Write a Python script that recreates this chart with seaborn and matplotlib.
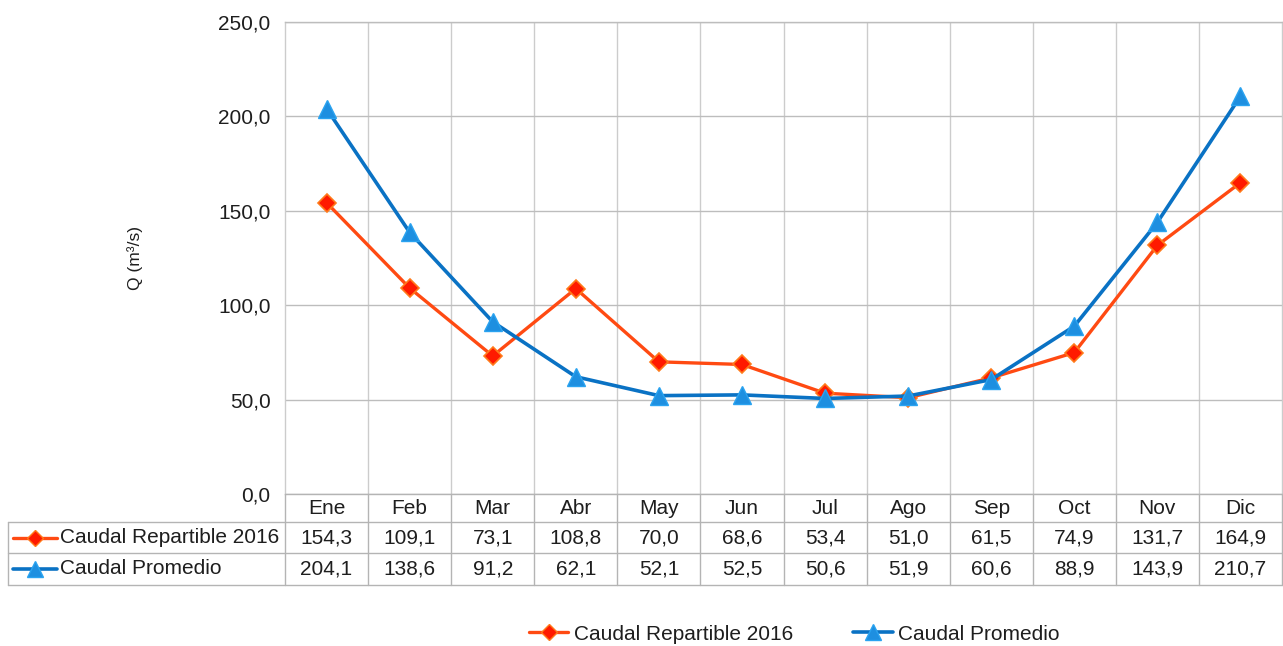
import matplotlib
matplotlib.use("Agg")
import matplotlib.pyplot as plt
import matplotlib.transforms as mtransforms
from matplotlib.lines import Line2D
import seaborn as sns
import pandas as pd

months = ["Ene", "Feb", "Mar", "Abr", "May", "Jun", "Jul", "Ago", "Sep", "Oct", "Nov", "Dic"]
caudal_repartible = [154.3, 109.1, 73.1, 108.8, 70.0, 68.6, 53.4, 51.0, 61.5, 74.9, 131.7, 164.9]
caudal_promedio = [204.1, 138.6, 91.2, 62.1, 52.1, 52.5, 50.6, 51.9, 60.6, 88.9, 143.9, 210.7]
series_names = ["Caudal Repartible 2016", "Caudal Promedio"]
y_ticks = [0, 50, 100, 150, 200, 250]

sns.set_theme(style="white")
plt.rcParams['font.family'] = ['Liberation Sans', 'DejaVu Sans']

W, H = 1283, 646
fig = plt.figure(figsize=(W / 100, H / 100), dpi=100)
L, R, T, B = 285, 1282, 22, 494
ax = fig.add_axes([L / W, 1 - B / H, (R - L) / W, (B - T) / H])

grid_c = "#cccccc"
hgrid_c = "#bdbdbd"
border_c = "#b4b4b4"
orange = "#FF4A12"
blue = "#0A72C4"
txt_c = "#1e1e1e"

df = pd.DataFrame({"pos": list(range(len(months))),
                   "rep": caudal_repartible, "prom": caudal_promedio})

sns.lineplot(data=df, x="pos", y="rep", ax=ax, color=orange, linewidth=2.4,
             marker="D", markersize=9.5, markerfacecolor="#FF1A00",
             markeredgecolor="#FF7A1A", markeredgewidth=1.2, zorder=4)
sns.lineplot(data=df, x="pos", y="prom", ax=ax, color=blue, linewidth=2.6,
             marker="^", markersize=13.5, markerfacecolor="#1E8FE0",
             markeredgecolor="#2AA3F0", markeredgewidth=1.0, zorder=5)

fs = 15
ax.set_xlim(-0.5, len(months) - 0.5)
ax.set_ylim(0, 250)
ax.set_yticks(y_ticks)
ax.set_yticklabels([f"{v:.1f}".replace(".", ",") for v in y_ticks], fontsize=fs, color=txt_c)
ax.tick_params(axis="y", length=0, pad=10.5)
ax.set_xticks([i + 0.5 for i in range(len(months) - 1)])
ax.set_xticklabels([])
ax.tick_params(axis="x", length=0)
ax.set_xlabel("")
ax.xaxis.grid(True, color=grid_c, linewidth=1.0)
ax.yaxis.grid(True, color=hgrid_c, linewidth=1.0)
ax.set_axisbelow(True)
for s in ax.spines.values():
    s.set_color(grid_c)
    s.set_linewidth(1.0)
ax.spines["bottom"].set_color(border_c)
ax.spines["top"].set_color(hgrid_c)

ax.set_ylabel("Q (m³/s)", fontsize=12.5, color=txt_c)
ax.yaxis.set_label_coords(-(L - 143) / (R - L), 0.5)

# Data table below the plot
trans = mtransforms.blended_transform_factory(ax.transData, fig.transFigure)
def fy(py):
    return 1 - py / H
def fx(px):
    return px / W

row_y = [494, 522, 553, 585]
n = len(months)
lkw = dict(color=border_c, linewidth=1.0, clip_on=False)
for i in range(n + 1):
    fig.add_artist(Line2D([i - 0.5, i - 0.5], [fy(row_y[0]), fy(row_y[3])], transform=trans, **lkw))
for py in row_y[1:]:
    fig.add_artist(Line2D([fx(8), fx(R)], [fy(py), fy(py)], transform=fig.transFigure, **lkw))
fig.add_artist(Line2D([fx(8), fx(8)], [fy(row_y[1]), fy(row_y[3])], transform=fig.transFigure, **lkw))

for i, m in enumerate(months):
    fig.text(i, fy((row_y[0] + row_y[1]) / 2), m, transform=trans, ha="center", va="center",
             fontsize=fs, color=txt_c)
    fig.text(i, fy((row_y[1] + row_y[2]) / 2), f"{caudal_repartible[i]:.1f}".replace(".", ","),
             transform=trans, ha="center", va="center", fontsize=fs, color=txt_c)
    fig.text(i, fy((row_y[2] + row_y[3]) / 2), f"{caudal_promedio[i]:.1f}".replace(".", ","),
             transform=trans, ha="center", va="center", fontsize=fs, color=txt_c)

keys = [
    dict(color=orange, linewidth=2.4, marker="D", markersize=8, markerfacecolor="#FF1A00",
         markeredgecolor="#FF7A1A", markeredgewidth=1.0),
    dict(color=blue, linewidth=2.6, marker="^", markersize=11.5, markerfacecolor="#1E8FE0",
         markeredgecolor="#2AA3F0", markeredgewidth=1.0),
]
for k, (name, kw) in enumerate(zip(series_names, keys)):
    yc = fy((row_y[k + 1] + row_y[k + 2]) / 2)
    kw2 = dict(kw)
    kw2["markevery"] = [1]
    fig.add_artist(Line2D([fx(13), fx(35), fx(57)], [yc, yc, yc], transform=fig.transFigure, **kw2))
    fig.text(fx(60), yc, name, ha="left", va="center", fontsize=fs, color=txt_c)

handles = [Line2D([0], [0], **keys[0]), Line2D([0], [0], **keys[1])]
fig.legend(handles, series_names, loc="center", bbox_to_anchor=(0.619, fy(634)),
           ncol=2, frameon=False, fontsize=fs, handlelength=1.9, handletextpad=0.25,
           columnspacing=2.9, labelcolor=txt_c)

fig.savefig("out.png", dpi=100)
